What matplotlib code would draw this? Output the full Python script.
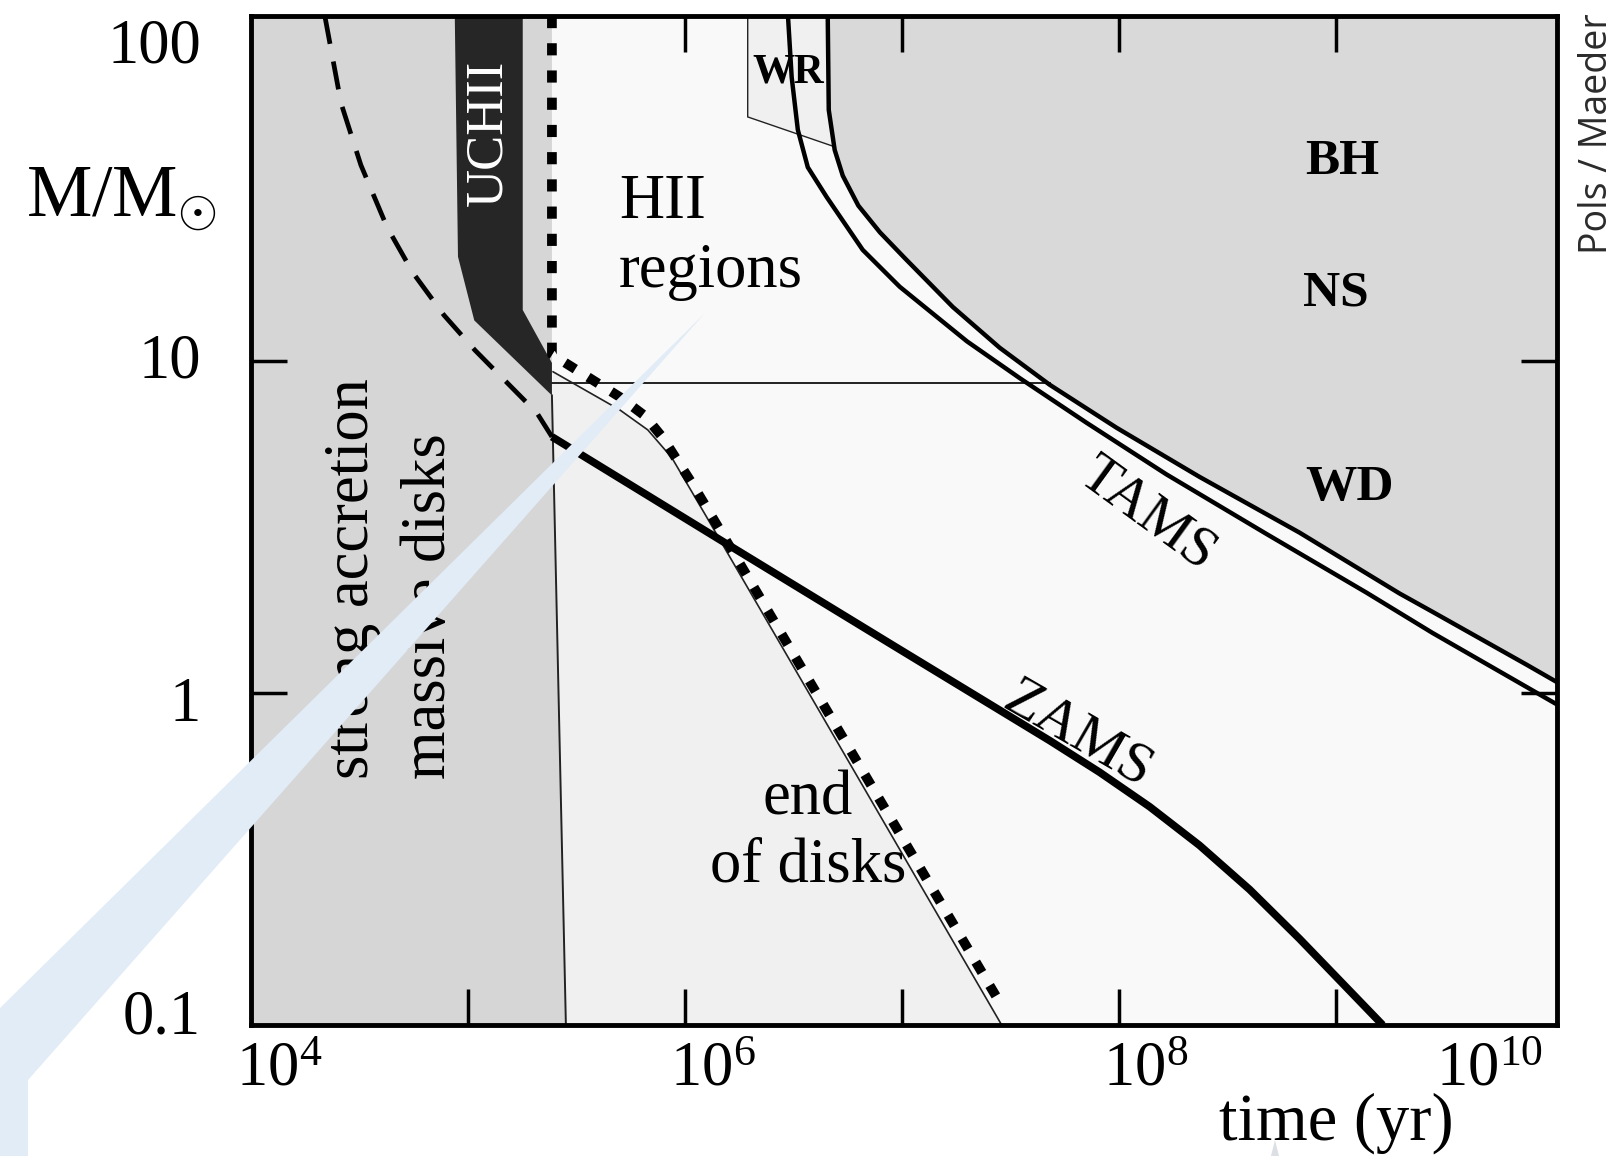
import matplotlib
matplotlib.use('Agg')
import matplotlib.pyplot as plt
import matplotlib.transforms as mtransforms
from matplotlib.patches import Polygon
from matplotlib.ticker import FixedLocator, NullLocator

plt.rcParams['font.family'] = 'Liberation Serif'
plt.rcParams['mathtext.fontset'] = 'custom'
plt.rcParams['mathtext.rm'] = 'Liberation Serif'
plt.rcParams['mathtext.it'] = 'Liberation Serif:italic'

# axis limits (time in yr, mass in solar masses)
T_MIN, T_MAX = 1e4, 1.05e10
M_MIN, M_MAX = 0.1, 110

x_ticks = [1e4, 1e5, 1e6, 1e7, 1e8, 1e9, 1e10]
x_tick_labels = ['$10^{4}$', '', '$10^{6}$', '', '$10^{8}$', '', '$10^{10}$']
y_ticks = [0.1, 1, 10, 100]
y_tick_labels = ['0.1', '1', '10', '100']

# dashed birthline-like curve
dash_time = [2.19e4, 2.6e4, 3.21e4, 4.24e4, 5.58e4, 7.75e4, 1.08e5, 1.5e5, 2.08e5, 2.44e5]
dash_mass = [110, 60.1, 39.1, 25.4, 18.5, 13.8, 10.8, 8.69, 7.0, 5.93]

# zero-age main sequence
zams_time = [2.44e5, 1.48e6, 9.19e6, 4.81e7, 8.17e7, 1.39e8, 2.36e8, 4.02e8, 6.82e8,
             1.16e9, 1.65e9]
zams_mass = [5.93, 2.88, 1.39, 0.72, 0.578, 0.455, 0.348, 0.256, 0.182, 0.127, 0.1]

# terminal-age main sequence (double line)
tams_in_time = [2.99e6, 3.11e6, 3.32e6, 3.69e6, 4.51e6, 6.61e6, 9.79e6, 2.0e7, 3.5e7,
                7.13e7, 1.66e8, 4.81e8, 1.39e9, 2.8e9, 1.05e10]
tams_in_mass = [110, 71.9, 49.9, 38.5, 31.3, 21.7, 16.8, 11.5, 8.91, 6.53, 4.57, 3.02,
                2.01, 1.52, 0.925]
tams_out_time = [4.56e6, 4.61e6, 4.91e6, 5.35e6, 6.31e6, 7.94e6, 1.04e7, 1.72e7, 2.83e7,
                 4.81e7, 9.8e7, 2.36e8, 6.82e8, 1.97e9, 2.8e9, 7.59e9, 1.05e10]
tams_out_mass = [110, 57.3, 43.4, 36.3, 29.5, 24.5, 20.4, 14.6, 11.0, 8.51, 6.31, 4.49,
                 3.05, 2.0, 1.76, 1.22, 1.08]

# end of disks (dotted) and the thin edge running along it
dot_time = [2.44e5, 2.44e5, 5.01e5, 6.54e5, 7.92e5, 1.09e6, 1.45e6, 2.92e7]
dot_mass = [110, 10.5, 7.82, 6.86, 5.89, 4.25, 3.11, 0.113]
edge_time = [2.47e5, 5.01e5, 6.75e5, 8.71e5, 1.26e6, 2.89e7]
edge_mass = [9.31, 7.15, 6.22, 5.13, 3.4, 0.1]

# end of strong accretion (thin near-vertical line)
accr_time = [2.44e5, 2.83e5]
accr_mass = [7.9, 0.1]

# boundary between HII regions and lower masses
hline_time = [2.44e5, 4.81e7]
hline_mass = [8.6, 8.6]

# ultracompact HII band
uchii_time = [8.7e4, 9.0e4, 1.07e5, 2.44e5, 2.44e5, 1.79e5, 1.79e5]
uchii_mass = [110, 20.7, 13.3, 7.9, 9.9, 14.3, 110]

# Wolf-Rayet box
wr_time = [1.95e6, 1.95e6, 4.85e6, 4.61e6, 4.56e6]
wr_mass = [110, 54.6, 44.5, 57.3, 110]

fig = plt.figure(figsize=(16.18, 11.56), dpi=100)
ax = fig.add_axes([251 / 1618, 1 - 1025 / 1156, 1306 / 1618, 1009 / 1156])
ax.set_xscale('log')
ax.set_yscale('log')
ax.set_xlim(T_MIN, T_MAX)
ax.set_ylim(M_MIN, M_MAX)
ax.set_facecolor('#f9f9f9')

# shaded regions
ax.fill(edge_time + accr_time[::-1], edge_mass + accr_mass[::-1],
        color='#f0f0f0', lw=0, zorder=1)
ax.fill([T_MIN, T_MIN, dot_time[0], accr_time[0], accr_time[1]],
        [M_MIN, M_MAX, M_MAX, accr_mass[0], accr_mass[1]],
        color='#d6d6d6', lw=0, zorder=1)
ax.fill(tams_out_time + [T_MAX], tams_out_mass + [M_MAX],
        color='#d9d9d9', lw=0, zorder=1)
ax.fill(wr_time, wr_mass, facecolor='#f0f0f0', edgecolor='#222222', lw=1.0, zorder=2)
ax.fill(uchii_time, uchii_mass, color='#262626', lw=0, zorder=3)

# thin boundaries
ax.plot(accr_time, accr_mass, color='#222222', lw=1.4, zorder=4)
ax.plot(hline_time, hline_mass, color='#222222', lw=1.4, zorder=4)
ax.plot(edge_time, edge_mass, color='#222222', lw=1.2, zorder=4)

# main curves
ax.plot(dash_time, dash_mass, color='black', lw=3.4, dashes=(6, 3.8), zorder=5)
ax.plot(dot_time, dot_mass, color='black', lw=7, dashes=(1.25, 1.55),
        dash_capstyle='butt', zorder=5)
ax.plot(zams_time, zams_mass, color='black', lw=5.5, solid_capstyle='butt',
        solid_joinstyle='round', zorder=5)
ax.plot(tams_in_time, tams_in_mass, color='black', lw=3.2, solid_joinstyle='round', zorder=5)
ax.plot(tams_out_time, tams_out_mass, color='black', lw=3.2, solid_joinstyle='round', zorder=5)

# axes frame and ticks
for side in ax.spines.values():
    side.set_linewidth(3.5)
    side.set_zorder(10)
ax.xaxis.set_major_locator(FixedLocator(x_ticks))
ax.xaxis.set_minor_locator(NullLocator())
ax.yaxis.set_major_locator(FixedLocator(y_ticks))
ax.yaxis.set_minor_locator(NullLocator())
ax.set_xticklabels(x_tick_labels)
ax.set_yticklabels(y_tick_labels)
ax.tick_params(which='major', direction='in', length=26, width=2.5,
               top=True, right=True, labelsize=45)
ax.tick_params(axis='x', pad=12)
ax.tick_params(axis='y', pad=36)

for tick, val in zip(ax.xaxis.get_major_ticks(), x_ticks):
    if val in (T_MIN, 1e10):
        tick.tick1line.set_visible(False)
        tick.tick2line.set_visible(False)
for tick, val in zip(ax.yaxis.get_major_ticks(), y_ticks):
    if val in (0.1, 100):
        tick.tick1line.set_visible(False)
        tick.tick2line.set_visible(False)


def nudge(label, dx, dy):
    label.set_transform(label.get_transform() +
                        mtransforms.ScaledTranslation(dx / 72, dy / 72, fig.dpi_scale_trans))


for lab, txt in zip(ax.get_xticklabels(), x_tick_labels):
    if txt == '$10^{10}$':
        lab.set_horizontalalignment('right')
        nudge(lab, -7, 0)
    else:
        lab.set_horizontalalignment('left')
        nudge(lab, -11, 0)
for lab, dy in zip(ax.get_yticklabels(), [10, -4, 4, -8]):
    nudge(lab, 0, dy)

# region labels
ax.text(4.97e5, 16.8, 'HII\nregions', fontsize=45, ha='left', va='baseline',
        multialignment='left', linespacing=1.25, zorder=6)
ax.text(3.7e6, 0.271, 'end\nof disks', fontsize=45, ha='center', va='baseline',
        multialignment='center', linespacing=1.2, zorder=6)
ax.text(6.47e7, 0.75, 'ZAMS', fontsize=42, rotation=-30, rotation_mode='anchor',
        ha='center', va='center', zorder=6)
ax.text(1.36e8, 3.45, 'TAMS', fontsize=41, rotation=-36, rotation_mode='anchor',
        ha='center', va='center', zorder=6)
ax.text(1.07e9, 36.7, 'BH', fontsize=37, fontweight='bold', ha='center', va='baseline', zorder=6)
ax.text(1.0e9, 14.8, 'NS', fontsize=37, fontweight='bold', ha='center', va='baseline', zorder=6)
ax.text(1.16e9, 3.83, 'WD', fontsize=37, fontweight='bold', ha='center', va='baseline', zorder=6)
ax.text(2.99e6, 69.5, 'WR', fontsize=30, fontweight='bold', ha='center', va='baseline', zorder=6)
ax.text(1.24e5, 49, 'UCHII', fontsize=38, color='white', rotation=90,
        ha='center', va='center', zorder=6)
ax.text(2.95e4, 0.553, 'strong accretion', fontsize=45, rotation=90,
        ha='center', va='bottom', zorder=6)
ax.text(6.68e4, 0.553, 'massive disks', fontsize=45, rotation=90,
        ha='center', va='bottom', zorder=6)

# axis titles
fig.text(26 / 1618, 1 - 216 / 1156, r'M/M$_{\odot}$', fontsize=53, ha='left', va='baseline')
fig.text(1336 / 1618, 0.014, 'time (yr)', fontsize=48, ha='center', va='baseline')
fig.text(0.987, 0.884, 'Pols / Maeder', family='Open Sans', fontsize=27, color='#2b2b2b',
         rotation=90, ha='center', va='center')

# pointer overlay across the figure
pointer = [(0.4357, 0.7292), (0.0, 0.1280), (0.0, 0.0), (0.0173, 0.0), (0.0173, 0.0657)]
fig.add_artist(Polygon(pointer, closed=True, transform=fig.transFigure,
                       facecolor='#e1ecf7', edgecolor='none', zorder=20))
caret = [(0.7855, 0.0), (0.7905, 0.0), (0.788, 0.0138)]
fig.add_artist(Polygon(caret, closed=True, transform=fig.transFigure,
                       facecolor='#dcdfe3', edgecolor='none', zorder=20))

fig.savefig('out.png', dpi=100, facecolor='white')
